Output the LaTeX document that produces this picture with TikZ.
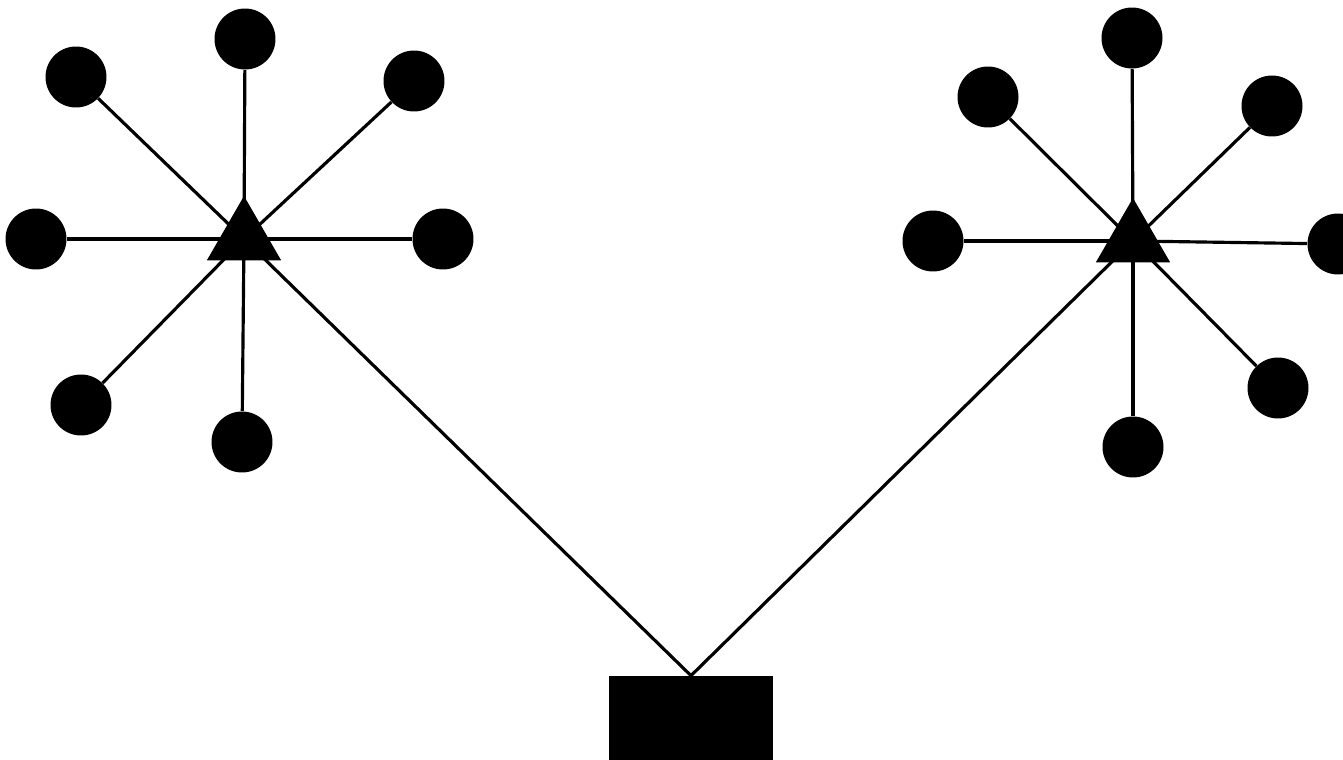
\documentclass[tikz,border=0pt]{standalone}
\usetikzlibrary{shapes.geometric}
\tikzset{dot/.style={circle,fill=black,inner sep=0pt,minimum size=1.22cm},hub/.style={regular polygon,regular polygon sides=3,fill=black,inner sep=0pt,minimum size=1.72cm},base/.style={rectangle,fill=black,inner sep=0pt,minimum width=3.3cm,minimum height=1.72cm},line/.style={line width=1.8pt}}

\begin{document}
\begin{tikzpicture}[x=0.02cm,y=-0.02cm]
\useasboundingbox (0,0) rectangle (1343,760);
\node[hub] (hl) at (244,239) {};
\node[dot] (l1) at (245,39) {};
\node[dot] (l2) at (76,77) {};
\node[dot] (l3) at (414,81) {};
\node[dot] (l4) at (36,239) {};
\node[dot] (l5) at (443,239) {};
\node[dot] (l6) at (81,405) {};
\node[dot] (l7) at (242,442) {};
\node[hub] (hr) at (1133,241) {};
\node[dot] (r1) at (1132,38) {};
\node[dot] (r2) at (988,97) {};
\node[dot] (r3) at (1272,106) {};
\node[dot] (r4) at (933,241) {};
\node[dot] (r5) at (1338,244) {};
\node[dot] (r6) at (1278,388) {};
\node[dot] (r7) at (1133,447) {};
\node[base] (sink) at (691,719) {};
\draw[line] (hl.center) -- (l1);
\draw[line] (hl.center) -- (l2);
\draw[line] (hl.center) -- (l3);
\draw[line] (hl.center) -- (l4);
\draw[line] (hl.center) -- (l5);
\draw[line] (hl.center) -- (l6);
\draw[line] (hl.center) -- (l7);
\draw[line] (hr.center) -- (r1);
\draw[line] (hr.center) -- (r2);
\draw[line] (hr.center) -- (r3);
\draw[line] (hr.center) -- (r4);
\draw[line] (hr.center) -- (r5);
\draw[line] (hr.center) -- (r6);
\draw[line] (hr.center) -- (r7);
\draw[line] (hl.center) -- (sink.north);
\draw[line] (hr.center) -- (sink.north);
\end{tikzpicture}
\end{document}
